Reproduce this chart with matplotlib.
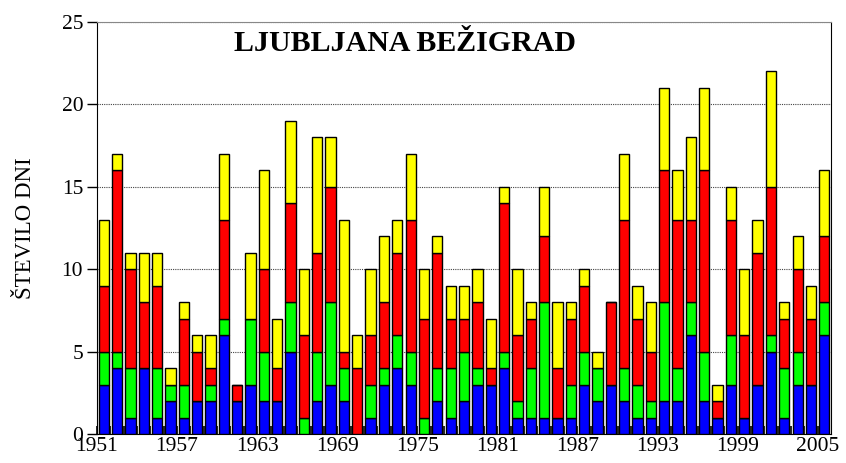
import numpy as np
import matplotlib.pyplot as plt

years = np.arange(1951, 2006)

# stevilo dni po kategorijah (od spodaj navzgor)
blue = [3, 4, 1, 4, 1, 2, 1, 2, 2, 6, 2, 3, 2, 2, 5, 0, 2, 3, 2, 0,
        1, 3, 4, 3, 0, 2, 1, 2, 3, 3, 4, 1, 1, 1, 1, 1, 3, 2, 3, 2,
        1, 1, 2, 2, 6, 2, 1, 3, 1, 3, 5, 1, 3, 3, 6]
green = [2, 1, 3, 0, 3, 1, 2, 0, 1, 1, 0, 4, 3, 0, 3, 1, 3, 5, 2, 0,
         2, 1, 2, 2, 1, 2, 3, 3, 1, 0, 1, 1, 3, 7, 0, 2, 2, 2, 0, 2,
         2, 1, 6, 2, 2, 3, 0, 3, 0, 0, 1, 3, 2, 0, 2]
red = [4, 11, 6, 4, 5, 0, 4, 3, 1, 6, 1, 0, 5, 2, 6, 5, 6, 7, 1, 4,
       3, 4, 5, 8, 6, 7, 3, 2, 4, 1, 9, 4, 3, 4, 3, 4, 4, 0, 5, 9,
       4, 3, 8, 9, 5, 11, 1, 7, 5, 8, 9, 3, 5, 4, 4]
yellow = [4, 1, 1, 3, 2, 1, 1, 1, 2, 4, 0, 4, 6, 3, 5, 4, 7, 3, 8, 2,
          4, 4, 2, 4, 3, 1, 2, 2, 2, 3, 1, 4, 1, 3, 4, 1, 1, 1, 0, 4,
          2, 3, 5, 3, 5, 5, 1, 2, 4, 2, 7, 1, 2, 2, 4]

series = [blue, green, red, yellow]
colors = ['#0000ff', '#00ff00', '#ff0000', '#ffff00']

plt.rcParams['font.family'] = ['Liberation Serif', 'DejaVu Serif']

fig = plt.figure(figsize=(8.46, 4.63), dpi=100)
ax = fig.add_axes([0.1147, 0.0626, 0.8676, 0.8899])

bottom = np.zeros(len(years))
for vals, c in zip(series, colors):
    vals = np.array(vals)
    ax.bar(years, vals, bottom=bottom, width=0.77, color=c,
           edgecolor='black', linewidth=1.0, zorder=3)
    bottom += vals

ax.set_xlim(1950.5, 2005.5)
ax.set_ylim(0, 25)
ax.set_yticks([0, 5, 10, 15, 20, 25])
ax.yaxis.grid(True, linestyle=(0, (1, 1)), color='#444444', linewidth=0.8, zorder=0)

lab_years = np.arange(1951, 2006, 6)
ax.set_xticks(lab_years - 0.5)
ax.set_xticklabels([str(y) for y in lab_years])
ax.set_xticks(years[1:] - 0.5, minor=True)
ax.tick_params(axis='x', which='both', direction='in', length=6, width=1.2,
               labelsize=15.5, pad=2)
ax.tick_params(axis='y', direction='out', length=7, width=1, labelsize=15.5, pad=3)

ax.spines['top'].set_color('#888888')
for s in ['left', 'right', 'bottom']:
    ax.spines[s].set_color('black')

ax.set_ylabel('ŠTEVILO DNI', fontsize=16.5)
ax.yaxis.set_label_coords(-0.083, 0.5)

ax.text(0.42, 0.948, 'LJUBLJANA BEŽIGRAD', transform=ax.transAxes,
        ha='center', va='center', fontsize=21.5, fontweight='bold')

plt.savefig('out.png', dpi=100)
